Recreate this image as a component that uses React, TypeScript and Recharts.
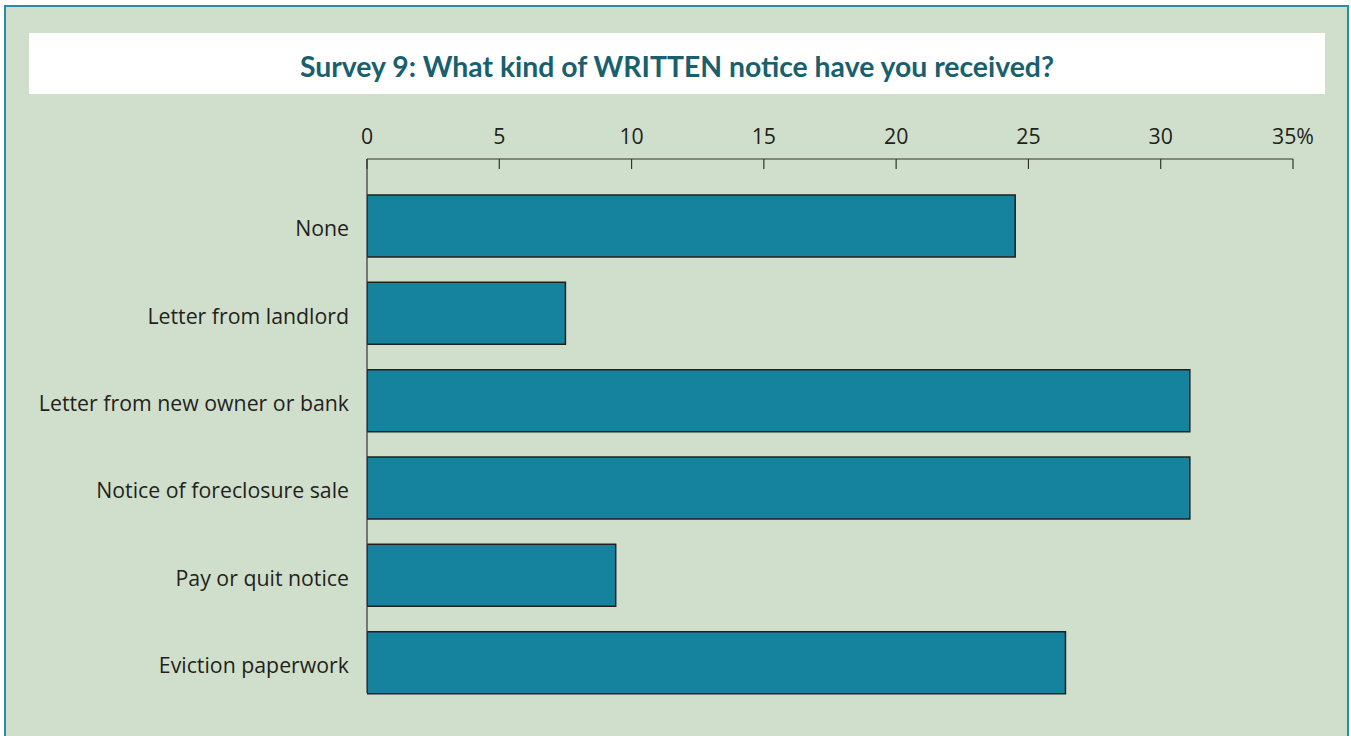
import React from 'react';
import { BarChart, Bar, XAxis, YAxis } from 'recharts';

const categories = [
  'None',
  'Letter from landlord',
  'Letter from new owner or bank',
  'Notice of foreclosure sale',
  'Pay or quit notice',
  'Eviction paperwork',
];
const percents = [24.5, 7.5, 31.1, 31.1, 9.4, 26.4];
const xTicks = [0, 5, 10, 15, 20, 25, 30, 35];
const xTickLabels = ['0', '5', '10', '15', '20', '25', '30', '35%'];

const title = 'Survey 9: What kind of WRITTEN notice have you received?';

const data = categories.map((name, i) => ({ name, value: percents[i] }));

const FONT = '"Open Sans", Lato, sans-serif';
const TITLE_FONT = 'Lato, "Open Sans", sans-serif';
const TICK_MARGIN = 15;

// ticks on the top axis point down into the plot, so draw them ourselves
const TopTick = (props: any) => {
  const { x, y, index } = props;
  return (
    <g>
      <text x={x} y={y} textAnchor="middle" fontFamily={FONT} fontSize={21.3} fill="#231f20">
        {xTickLabels[index]}
      </text>
      <line x1={x} x2={x} y1={y + TICK_MARGIN} y2={y + TICK_MARGIN + 10} stroke="#333" strokeWidth={1.2} />
    </g>
  );
};

const App: React.FC = () => {
  return (
    <div style={{ position: 'relative', width: 1351, height: 736, background: '#fff', overflow: 'hidden' }}>
      <style>{`body{margin:0}`}</style>
      <div
        style={{
          position: 'absolute',
          left: 4,
          top: 5,
          width: 1341,
          height: 780,
          border: '2px solid #2a8ba8',
          background: '#d0dfcc',
        }}
      />
      <div style={{ position: 'absolute', left: 29, top: 33, width: 1296, height: 61, background: '#fff' }}>
        <svg width={1296} height={61}>
          <text
            x={648}
            y={44}
            textAnchor="middle"
            fontFamily={TITLE_FONT}
            fontWeight={700}
            fontSize={29}
            fill="#18606e"
            textLength={754}
            lengthAdjust="spacingAndGlyphs"
          >
            {title}
          </text>
        </svg>
      </div>
      <div style={{ position: 'absolute', left: 0, top: 0 }}>
        <BarChart
          width={1351}
          height={736}
          data={data}
          layout="vertical"
          margin={{ top: 129, right: 58, left: 0, bottom: 43 }}
        >
          <XAxis
            type="number"
            orientation="top"
            domain={[0, 35]}
            ticks={xTicks}
            height={30}
            tickSize={0}
            tickLine={false}
            tickMargin={TICK_MARGIN}
            tick={<TopTick />}
            axisLine={{ stroke: '#333', strokeWidth: 1.2 }}
            allowDataOverflow
          />
          <YAxis
            type="category"
            dataKey="name"
            width={367}
            padding={{ top: 23, bottom: -13 }}
            tickSize={0}
            tickLine={false}
            tickMargin={18}
            axisLine={{ stroke: '#333', strokeWidth: 1.2 }}
            tick={{ fontFamily: FONT, fontSize: 21.3, fill: '#231f20', dy: 3 }}
          />
          <Bar
            dataKey="value"
            fill="#15829e"
            stroke="#231f20"
            strokeWidth={1.5}
            barSize={62}
            isAnimationActive={false}
          />
        </BarChart>
      </div>
    </div>
  );
};

export default App;
